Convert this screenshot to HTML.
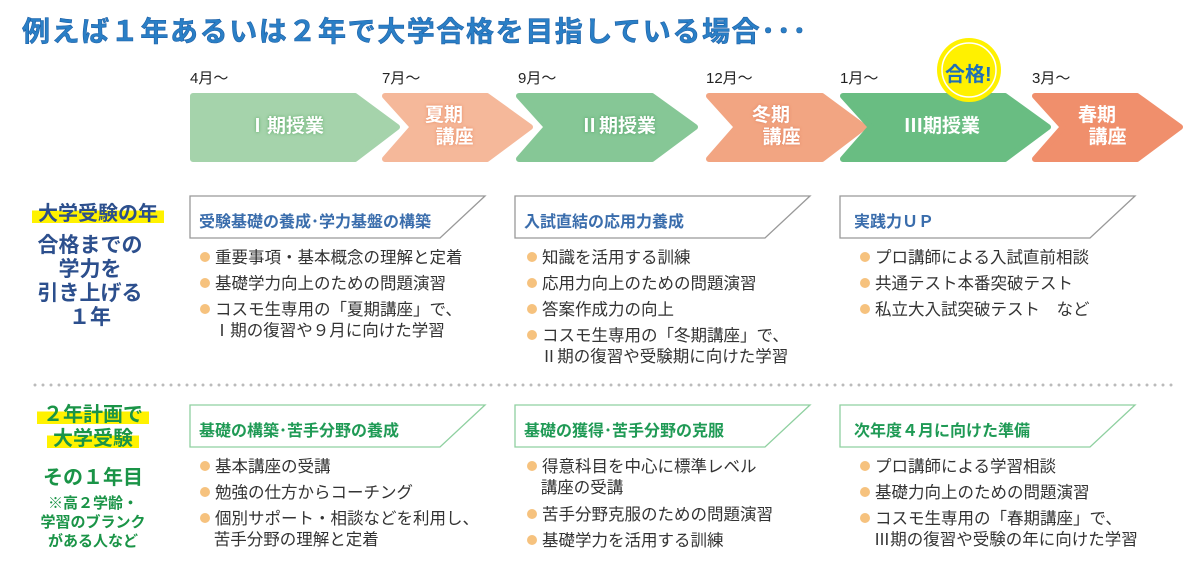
<!DOCTYPE html>
<html><head><meta charset="utf-8">
<style>
*{margin:0;padding:0;box-sizing:border-box}
body{width:1200px;height:570px;background:#fff;position:relative;overflow:hidden;font-family:"Liberation Sans","Noto Sans CJK JP",sans-serif}
.a{position:absolute;white-space:nowrap}
.title{left:22px;top:10px;font-size:28px;font-weight:bold;color:#2a7fc6;letter-spacing:1.6px;
 text-shadow:0 0 1px #fff,1px 1px 0 #fff,-1px -1px 0 #fff,1px -1px 0 #fff,-1px 1px 0 #fff;-webkit-text-stroke:0.6px #1c5fa6}
.m{font-size:15px;color:#222;top:67px}
.at{color:#fff;font-weight:bold;font-size:19px;line-height:22px}
.hd{font-weight:bold;font-size:16px}
.b{font-size:16.5px;color:#333;line-height:21px}
.b span.d{display:inline-block;width:10px;height:10px;border-radius:50%;background:#f6c27e;margin-right:5px;vertical-align:1px}
.nv{color:#2c4f8d;font-weight:bold;text-align:center}
.gr{color:#1a9447;font-weight:bold;text-align:center}
.hl{background:linear-gradient(to bottom,transparent 35%,#fff200 35%,#fff200 92%,transparent 92%)}
</style></head><body>
<div class="a title">例えば１年あるいは２年で大学合格を目指している場合･･･</div>

<div class="a m" style="left:190px">4月～</div>
<div class="a m" style="left:382px">7月～</div>
<div class="a m" style="left:518px">9月～</div>
<div class="a m" style="left:706px">12月～</div>
<div class="a m" style="left:840px">1月～</div>
<div class="a m" style="left:1032px">3月～</div>

<svg class="a" style="left:0;top:0" width="1200" height="570">
 <g stroke-linejoin="round" stroke-width="6">
 <polygon points="193,96 355,96 397,127 355,159 193,159" fill="#a5d3ab" stroke="#a5d3ab"/>
 <polygon points="385,96 487,96 530,127 487,159 385,159 413,127" fill="#f5b89a" stroke="#f5b89a"/>
 <polygon points="519,96 652,96 695,127 652,159 519,159 547,127" fill="#86c796" stroke="#86c796"/>
 <polygon points="709,96 822,96 864,127 822,159 709,159 737,127" fill="#f2a582" stroke="#f2a582"/>
 <polygon points="843,96 1005,96 1048,127 1005,159 843,159 871,127" fill="#69bd82" stroke="#69bd82"/>
 <polygon points="1035,96 1137,96 1180,127 1137,159 1035,159 1063,127" fill="#f08f6c" stroke="#f08f6c"/>
 </g>
 <circle cx="969" cy="70" r="32" fill="#fff100"/>
 <circle cx="969" cy="70" r="27" fill="none" stroke="#fff" stroke-width="1.5"/>
 <g fill="#fff" stroke="#999" stroke-width="1.3">
 <polygon points="190,196 485,196 440,238 190,238"/>
 <polygon points="515,196 810,196 765,238 515,238"/>
 <polygon points="840,196 1135,196 1090,238 840,238"/>
 </g>
 <g fill="#fff" stroke="#8fd0a0" stroke-width="1.3">
 <polygon points="190,405 485,405 440,447 190,447"/>
 <polygon points="515,405 810,405 765,447 515,447"/>
 <polygon points="840,405 1135,405 1090,447 840,447"/>
 </g>
 <line x1="35" y1="385" x2="1176" y2="385" stroke="#bbb" stroke-width="3" stroke-linecap="round" stroke-dasharray="0 8"/>
</svg>

<div class="a at" style="left:248px;top:116px;text-shadow:0 0 3px #5aa765">Ⅰ期授業</div>
<div class="a at" style="left:425px;top:105px;text-shadow:0 0 3px #e98a62">夏期<br>&nbsp;&nbsp;講座</div>
<div class="a at" style="left:580px;top:116px;text-shadow:0 0 3px #4c9e62">Ⅱ期授業</div>
<div class="a at" style="left:752px;top:105px;text-shadow:0 0 3px #e08060">冬期<br>&nbsp;&nbsp;講座</div>
<div class="a at" style="left:904px;top:116px">Ⅲ期授業</div>
<div class="a at" style="left:1078px;top:105px">春期<br>&nbsp;&nbsp;講座</div>
<div class="a" style="left:945px;top:58px;font-size:20px;font-weight:bold;color:#1f6fb8">合格!</div>

<div class="a nv" style="left:18px;top:197px;width:160px;font-size:20px"><span class="hl">&nbsp;大学受験の年&nbsp;</span></div>
<div class="a nv" style="left:15px;top:234px;width:150px;font-size:21px;line-height:24px">合格までの<br>学力を<br>引き上げる<br>１年</div>

<div class="a hd" style="left:199px;top:208px;color:#3a6dac">受験基礎の養成･学力基盤の構築</div>
<div class="a hd" style="left:524px;top:208px;color:#3a6dac">入試直結の応用力養成</div>
<div class="a hd" style="left:854px;top:208px;color:#3a6dac">実践力ＵＰ</div>

<div class="a b" style="left:200px;top:248px"><span class="d"></span>重要事項・基本概念の理解と定着</div>
<div class="a b" style="left:200px;top:274px"><span class="d"></span>基礎学力向上のための問題演習</div>
<div class="a b" style="left:200px;top:300px"><span class="d"></span>コスモ生専用の「夏期講座」で、<br>&nbsp;&nbsp;&nbsp;Ⅰ期の復習や９月に向けた学習</div>

<div class="a b" style="left:527px;top:248px"><span class="d"></span>知識を活用する訓練</div>
<div class="a b" style="left:527px;top:274px"><span class="d"></span>応用力向上のための問題演習</div>
<div class="a b" style="left:527px;top:300px"><span class="d"></span>答案作成力の向上</div>
<div class="a b" style="left:527px;top:326px"><span class="d"></span>コスモ生専用の「冬期講座」で、<br>&nbsp;&nbsp;&nbsp;Ⅱ期の復習や受験期に向けた学習</div>

<div class="a b" style="left:860px;top:248px"><span class="d"></span>プロ講師による入試直前相談</div>
<div class="a b" style="left:860px;top:274px"><span class="d"></span>共通テスト本番突破テスト</div>
<div class="a b" style="left:860px;top:300px"><span class="d"></span>私立大入試突破テスト　など</div>

<div class="a gr" style="left:18px;top:403px;width:150px;font-size:20px;line-height:24px"><span class="hl">&nbsp;２年計画で&nbsp;</span><br><span class="hl">&nbsp;大学受験&nbsp;</span></div>
<div class="a gr" style="left:18px;top:461px;width:150px;font-size:20px">その１年目</div>
<div class="a gr" style="left:18px;top:494px;width:150px;font-size:15px;line-height:19px">※高２学齢・<br>学習のブランク<br>がある人など</div>

<div class="a hd" style="left:199px;top:417px;color:#1f9a55">基礎の構築･苦手分野の養成</div>
<div class="a hd" style="left:524px;top:417px;color:#1f9a55">基礎の獲得･苦手分野の克服</div>
<div class="a hd" style="left:854px;top:417px;color:#1f9a55">次年度４月に向けた準備</div>

<div class="a b" style="left:200px;top:457px"><span class="d"></span>基本講座の受講</div>
<div class="a b" style="left:200px;top:483px"><span class="d"></span>勉強の仕方からコーチング</div>
<div class="a b" style="left:200px;top:509px"><span class="d"></span>個別サポート・相談などを利用し、<br>&nbsp;&nbsp;&nbsp;苦手分野の理解と定着</div>

<div class="a b" style="left:527px;top:457px"><span class="d"></span>得意科目を中心に標準レベル<br>&nbsp;&nbsp;&nbsp;講座の受講</div>
<div class="a b" style="left:527px;top:505px"><span class="d"></span>苦手分野克服のための問題演習</div>
<div class="a b" style="left:527px;top:531px"><span class="d"></span>基礎学力を活用する訓練</div>

<div class="a b" style="left:860px;top:457px"><span class="d"></span>プロ講師による学習相談</div>
<div class="a b" style="left:860px;top:483px"><span class="d"></span>基礎力向上のための問題演習</div>
<div class="a b" style="left:860px;top:509px"><span class="d"></span>コスモ生専用の「春期講座」で、<br>&nbsp;&nbsp;&nbsp;Ⅲ期の復習や受験の年に向けた学習</div>
</body></html>
